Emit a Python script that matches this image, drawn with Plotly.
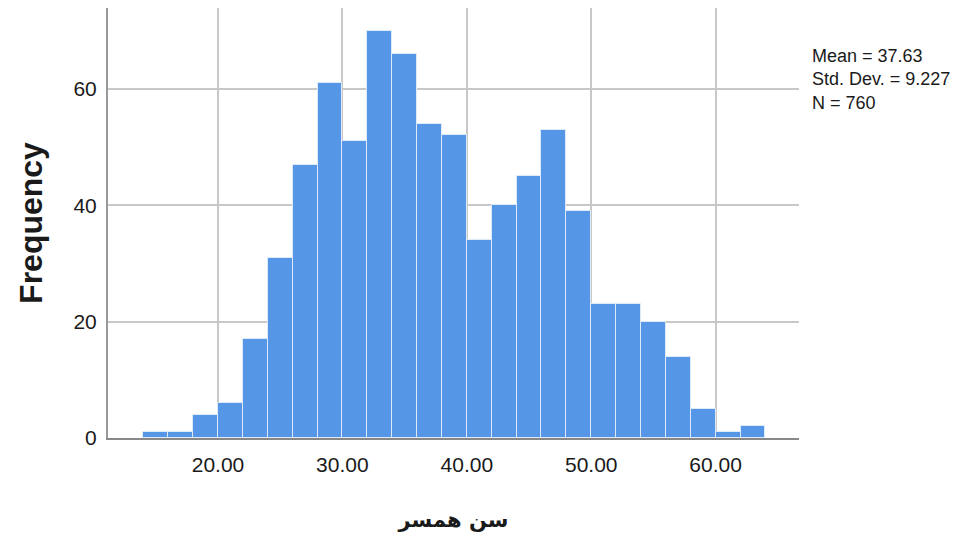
import plotly.graph_objects as go

# Histogram bins (left edges, width 2) and frequencies
bin_left = [14, 16, 18, 20, 22, 24, 26, 28, 30, 32, 34, 36, 38, 40, 42, 44, 46, 48, 50, 52, 54, 56, 58, 60, 62]
counts = [1, 1, 4, 6, 17, 31, 47, 61, 51, 70, 66, 54, 52, 34, 40, 45, 53, 39, 23, 23, 20, 14, 5, 1, 2]
bin_width = 2

x_ticks = [20, 30, 40, 50, 60]
x_tick_labels = ["20.00", "30.00", "40.00", "50.00", "60.00"]
y_ticks = [0, 20, 40, 60]

stats_lines = ["Mean = 37.63", "Std. Dev. = 9.227", "N = 760"]
x_title = "سن همسر"
y_title = "Frequency"

centers = [b + bin_width / 2 for b in bin_left]

fig = go.Figure()
fig.add_trace(go.Bar(
    x=centers,
    y=counts,
    width=[bin_width] * len(centers),
    marker=dict(color="#5596E6", line=dict(color="#dfeaf8", width=1)),
    showlegend=False,
    hoverinfo="x+y",
))

font_family = "Liberation Sans, Arial, sans-serif"

# page body has an 8px margin, so the figure is sized to fit the window
W, H = 972, 529
L, T, R, B = 100, 0, 181, 99
plot_h = H - T - B

y_mid_px = 80 - 8  # centre of the middle stats line, relative to figure top
annotations = [dict(
    x=1.0155, y=1 - (y_mid_px - T) / plot_h, xref="paper", yref="paper",
    xanchor="left", yanchor="middle", align="left", showarrow=False,
    text="<br>".join(stats_lines),
    font=dict(size=18, family=font_family, color="#1a1a1a"),
)]

fig.update_layout(
    width=W,
    height=H,
    margin=dict(l=L, r=R, t=T, b=B),
    paper_bgcolor="white",
    plot_bgcolor="white",
    font=dict(family=font_family, color="#1a1a1a", size=21),
    bargap=0,
    xaxis=dict(
        range=[11.16, 66.70],
        tickvals=x_ticks,
        ticktext=x_tick_labels,
        showgrid=True,
        gridcolor="#c8c8c8",
        gridwidth=2,
        zeroline=False,
        showline=True,
        linecolor="#888888",
        linewidth=2,
        ticks="",
        ticklabelstandoff=7,
        tickfont=dict(size=21),
        title=dict(text=x_title, font=dict(size=21, family="DejaVu Sans, Noto Sans, sans-serif", weight="bold"), standoff=37),
    ),
    yaxis=dict(
        range=[0, 73.9],
        tickvals=y_ticks,
        showgrid=True,
        gridcolor="#c8c8c8",
        gridwidth=2,
        zeroline=False,
        showline=True,
        linecolor="#999999",
        linewidth=2,
        ticks="",
        ticklabelstandoff=5,
        tickfont=dict(size=21),
        title=dict(text=y_title, font=dict(size=32, weight="bold"), standoff=21),
    ),
    annotations=annotations,
)

fig.write_html("out.html")
